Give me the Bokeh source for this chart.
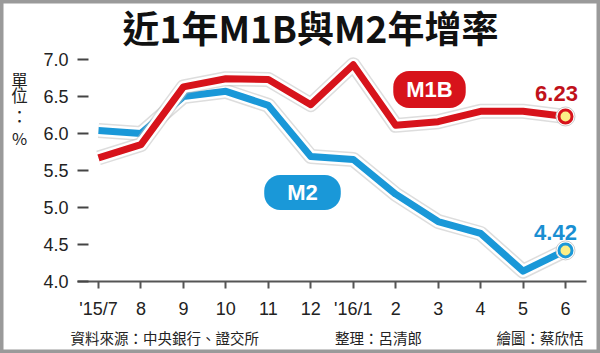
from bokeh.plotting import figure
from bokeh.models import Label, FixedTicker, ColumnDataSource
from bokeh.embed import file_html
from bokeh.resources import INLINE

# ---- data ----
months = ["'15/7", "8", "9", "10", "11", "12", "'16/1", "2", "3", "4", "5", "6"]
m1b = [5.67, 5.85, 6.63, 6.74, 6.73, 6.39, 6.93, 6.11, 6.16, 6.30, 6.30, 6.23]
m2 = [6.04, 6.00, 6.50, 6.57, 6.38, 5.69, 5.65, 5.18, 4.81, 4.65, 4.14, 4.42]
y_ticks = [4.0, 4.5, 5.0, 5.5, 6.0, 6.5, 7.0]
title_text = "近1年M1B與M2年增率"
source_text = "資料來源：中央銀行、證交所"
editor_text = "整理：呂清郎"
artist_text = "繪圖：蔡欣恬"

RED = "#d7131b"
BLUE = "#1a98d8"
CJK = "Noto Sans CJK TC"
NUM = "Liberation Sans"

W, H = 600, 353
AX_L, AX_R, AX_B = 77, 586, 281   # axis positions (px)
x0px, x11px = 98, 565
ppx = (x11px - x0px) / 11.0
ppy = 74.0
xs = -x0px / ppx
xe = 11 + (W - x11px) / ppx
ys = 4.0 - (H - AX_B) / ppy
ye = 4.0 + AX_B / ppy


def dx(px):
    return xs + px / ppx


def dy(py):
    return ys + (H - py) / ppy


p = figure(width=W, height=H, output_backend="svg", toolbar_location=None,
           x_range=(xs, xe), y_range=(ys, ye), min_border=0)
p.outline_line_color = "#9a9a9a"
p.outline_line_width = 6
p.grid.visible = False
p.background_fill_color = "white"
p.border_fill_color = "white"

# axes (drawn at fixed locations inside the frame)
p.xaxis.fixed_location = 4.0
p.xaxis.bounds = (dx(AX_L), dx(AX_R))
p.xaxis.ticker = FixedTicker(ticks=list(range(len(months))))
p.xaxis.major_label_overrides = {i: m for i, m in enumerate(months)}
p.xaxis.axis_line_color = "#555555"
p.xaxis.axis_line_width = 2
p.xaxis.major_tick_line_color = "#555555"
p.xaxis.major_tick_line_width = 2
p.xaxis.major_tick_in = 0
p.xaxis.major_tick_out = 7
p.xaxis.minor_tick_line_color = None
p.xaxis.major_label_text_font = NUM
p.xaxis.major_label_text_font_size = "18px"
p.xaxis.major_label_text_color = "#222222"
p.xaxis.major_label_standoff = 10

p.yaxis.fixed_location = dx(AX_L)
p.yaxis.bounds = (4.0, 7.0)
p.yaxis.ticker = FixedTicker(ticks=y_ticks)
p.yaxis.major_label_overrides = {t: f"{t:.1f}" for t in y_ticks}
p.yaxis.axis_line_color = None
p.yaxis.major_tick_line_color = "#444444"
p.yaxis.major_tick_line_width = 2
p.yaxis.major_tick_in = 11
p.yaxis.major_tick_out = 0
p.yaxis.minor_tick_line_color = None
p.yaxis.major_label_text_font = NUM
p.yaxis.major_label_text_font_size = "18px"
p.yaxis.major_label_text_color = "#222222"
p.yaxis.major_label_standoff = 9

idx = list(range(len(months)))
src = ColumnDataSource(dict(x=idx, m1b=m1b, m2=m2))

for col, color in (("m2", BLUE), ("m1b", RED)):
    p.line("x", col, source=src, line_color="#bbbbbb", line_width=15, line_alpha=0.5, line_join="round")
    p.line("x", col, source=src, line_color="white", line_width=12, line_join="round")
    p.line("x", col, source=src, line_color=color, line_width=7, line_join="round")

# end markers
last = len(months) - 1
for vals, color in ((m1b, RED), (m2, BLUE)):
    p.scatter([last], [vals[-1]], size=19, fill_color="white", line_color="#cccccc", line_width=1)
    p.scatter([last], [vals[-1]], size=13, fill_color="#fbee86", line_color=color, line_width=3)


def lab(text, px, py, size, color="#222222", font=CJK, style="normal", align="center", **kw):
    l = Label(x=dx(px), y=dy(py), text=text, text_font=font, text_font_size=f"{size}px",
              text_color=color, text_font_style=style, text_align=align,
              text_baseline="middle", **kw)
    p.add_layout(l)
    return l


# value labels
lab(f"{m1b[-1]:.2f}", 556, 93, 22, color="#c0111a", font=NUM, style="bold")
lab(f"{m2[-1]:.2f}", 555, 232, 22, color="#1a8fd2", font=NUM, style="bold")

# pills
lab("M1B", 429, 89, 22, color="white", font=NUM, style="bold",
    background_fill_color=RED, border_radius=16,
    padding=dict(left=13, right=13, top=6, bottom=6))
lab("M2", 302, 192, 22, color="white", font=NUM, style="bold",
    background_fill_color=BLUE, border_radius=16,
    padding=dict(left=23, right=23, top=5, bottom=5))

# title
lab(title_text, 310, 26, 37, color="#111111", style="bold")

# unit label
for ch, py in (("單", 79), ("位", 94), ("：", 115), ("%", 137)):
    lab(ch, 19, py, 16.5)

# footer
lab(source_text, 70, 337, 14.5, align="left")
lab(editor_text, 378, 337, 14.5)
lab(artist_text, 583, 337, 14.5, align="right")

open("out.html", "w").write(file_html(p, INLINE))
